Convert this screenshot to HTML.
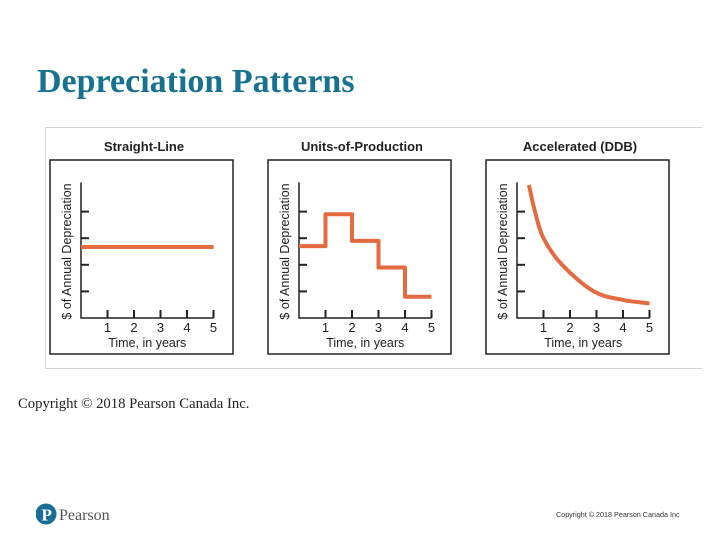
<!DOCTYPE html>
<html><head><meta charset="utf-8"><style>
body{margin:0;width:720px;height:540px;background:#fff;overflow:hidden;position:relative;font-family:"Liberation Sans",sans-serif}
#title{position:absolute;left:37px;top:62px;font:bold 34px "Liberation Serif",serif;color:#177190;margin:0;line-height:40px}
#fig{position:absolute;left:45px;top:127px;width:657px;height:242px;border:1px solid #d4d4d4;border-right:none;box-sizing:border-box}
#copy{position:absolute;left:18px;top:396px;font:14.7px "Liberation Serif",serif;color:#222}
#foot{position:absolute;left:556px;top:510px;font-size:7.2px;color:#333}
#logo{position:absolute;left:36px;top:502px}
</style></head><body>
<h1 id="title">Depreciation Patterns</h1>
<div id="fig"></div>
<svg id="chart" width="720" height="540" style="position:absolute;left:0;top:0"></svg>
<div id="copy">Copyright © 2018 Pearson Canada Inc.</div>
<svg id="logo" width="80" height="26"><circle cx="10" cy="12" r="10.5" fill="#1a6d94"/><text x="5.5" y="18.5" font-family="Liberation Serif" font-size="17" font-weight="bold" fill="#fff">P</text><text x="23" y="18" font-family="Liberation Serif" font-size="16" fill="#555">Pearson</text></svg>
<div id="foot">Copyright © 2018 Pearson Canada Inc</div>
<script>
const titles=["Straight-Line","Units-of-Production","Accelerated (DDB)"];
const xTicks=[1,2,3,4,5];
const yTicks=[1,2,3,4];
const slValues=[2.67,2.67,2.67,2.67,2.67];
const upValues=[2.7,3.9,2.9,1.9,0.8];
const ddbYears=[0.45,0.68,1,1.7,2.9,4,5];
const ddbValues=[5.0,4.0,3.0,2.0,1.0,0.68,0.55];
const svg=document.getElementById('chart');const NS='http://www.w3.org/2000/svg';
function mk(t,a,p){const e=document.createElementNS(NS,t);for(const k in a)e.setAttribute(k,a[k]);(p||svg).appendChild(e);return e;}
const offs=[50,268,486];const unit=26.5,yu=26.6,oyY=318;
offs.forEach((L,i)=>{
 const g=mk('g',{});
 
 
 const ox=L+31;
 const X=t=>ox+t*unit, Y=v=>oyY-v*yu;
 const box=mk('rect',{x:L,y:160,width:183,height:194,fill:'none',stroke:'#222','stroke-width':1.5},g);
 
 const tt=mk('text',{x:L+94,y:151,'text-anchor':'middle','font-size':13,'font-weight':'bold',fill:'#222'},g);tt.textContent=titles[i];
 
 mk('path',{d:`M${ox} ${Y(5.1)}V${oyY}H${X(5)}`,fill:'none',stroke:'#222','stroke-width':1.5},g);
 yTicks.forEach(v=>mk('line',{x1:ox,x2:ox+8,y1:Y(v),y2:Y(v),stroke:'#222','stroke-width':2},g));
 xTicks.forEach(t=>{mk('line',{x1:X(t),x2:X(t),y1:oyY,y2:oyY-8,stroke:'#222','stroke-width':2},g);
  const l=mk('text',{x:X(t),y:332,'text-anchor':'middle','font-size':13,fill:'#222'},g);l.textContent=t;
  });
 const xl=mk('text',{x:X(2.5),y:347,'text-anchor':'middle','font-size':12.5,fill:'#222'},g);xl.textContent='Time, in years';
 
 const yl=mk('text',{transform:`translate(${L+21},${Y(2.5)}) rotate(-90)`,'text-anchor':'middle','font-size':12.5,fill:'#222'},g);yl.textContent='$ of Annual Depreciation';
 
 let d='';
 if(i===0){d=`M${X(0)} ${Y(slValues[0])}`;slValues.forEach((v,k)=>d+=`H${X(k+1)}`);}
 else if(i===1){upValues.forEach((v,k)=>{d+=(k?'V':`M${X(0)} `)+Y(v)+`H${X(k+1)}`;});}
 else{const P=ddbYears.map((t,k)=>[X(t),Y(ddbValues[k])]);d=`M${P[0][0]} ${P[0][1]}`;
  for(let k=0;k<P.length-1;k++){const p0=P[k-1]||P[k],p1=P[k],p2=P[k+1],p3=P[k+2]||p2;
   d+=`C${p1[0]+(p2[0]-p0[0])/6} ${p1[1]+(p2[1]-p0[1])/6} ${p2[0]-(p3[0]-p1[0])/6} ${p2[1]-(p3[1]-p1[1])/6} ${p2[0]} ${p2[1]}`;}}
 const s=mk('path',{d:d,fill:'none',stroke:'#e46a3f','stroke-width':4,'stroke-linejoin':'round'},g);
 
});
</script>
</body></html>
